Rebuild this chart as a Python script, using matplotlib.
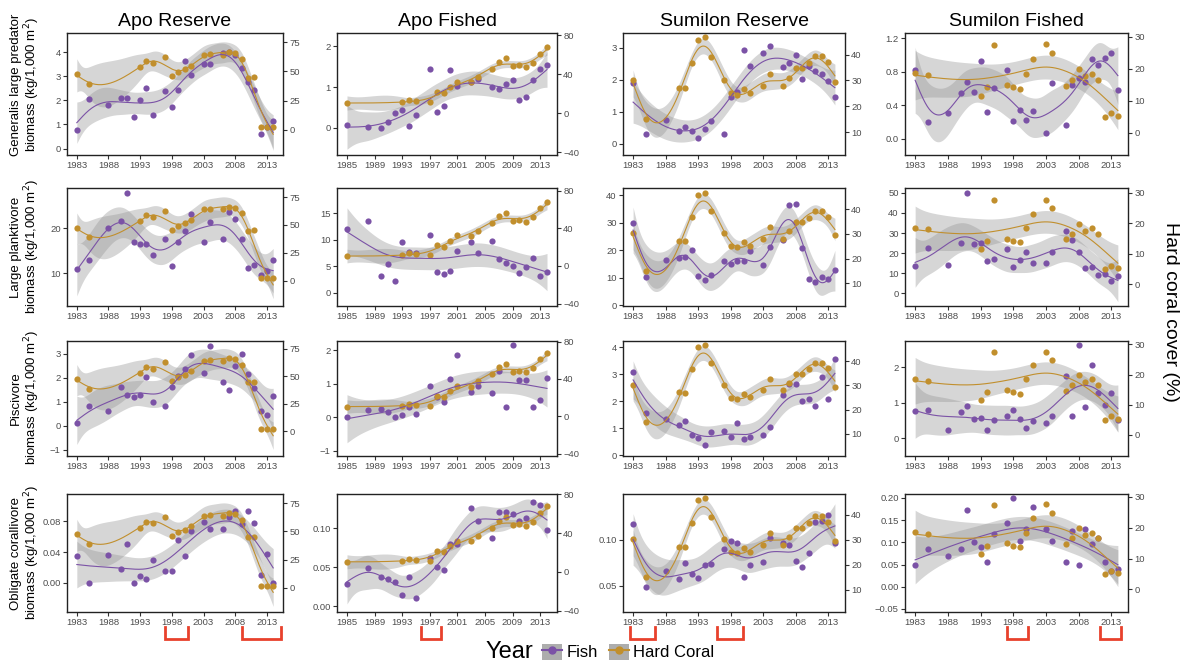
import numpy as np
import matplotlib
matplotlib.use('Agg')
import matplotlib.pyplot as plt
import matplotlib.transforms as mtransforms
from matplotlib.lines import Line2D
from matplotlib.patches import Patch
from matplotlib.legend_handler import HandlerTuple
from matplotlib.ticker import MultipleLocator, FixedLocator, FuncFormatter

plt.rcParams['font.family'] = ['Liberation Sans', 'DejaVu Sans']

# ---- survey years ----
years_apo_res = [1983, 1985, 1988, 1990, 1991, 1992, 1993, 1994, 1995, 1997, 1998, 1999, 2000,
                 2001, 2003, 2004, 2006, 2007, 2008, 2009, 2010, 2011, 2012, 2013, 2014]
years_apo_fish = years_apo_res[1:]
years_sum = years_apo_res

# ---- hard coral cover (%) ----
coral_years_apo_res = [1983, 1985, 1993, 1994, 1995, 1997, 1998, 1999, 2000, 2001, 2003,
                       2004, 2006, 2007, 2008, 2009, 2010, 2011, 2012, 2013, 2014]
coral_apo_res = [47.6, 38.9, 53.4, 58.6, 57.1, 62.6, 45.6, 49.3, 51.6, 54.5, 64.0,
                 64.6, 64.0, 66.3, 65.5, 60.3, 44.7, 45.3, 2, 2, 2]
coral_years_apo_fish = [1985, 1993, 1994, 1995, 1997, 1998, 1999, 2000, 2001, 2003,
                        2004, 2006, 2007, 2008, 2009, 2010, 2011, 2012, 2013, 2014]
coral_apo_fish = [10.5, 11.2, 13.6, 12.2, 11.2, 21.8, 20.4, 26.9, 32.3, 31.6,
                  37.4, 45.6, 52.7, 56.5, 48, 49, 47, 51.7, 61.2, 67.7]
coral_years_sum_res = [1983, 1985, 1990, 1991, 1992, 1993, 1994, 1995, 1997, 1998, 1999, 2000,
                       2001, 2003, 2004, 2006, 2007, 2008, 2009, 2010, 2011, 2012, 2013, 2014]
coral_sum_res = [30.3, 14.9, 27.1, 27.0, 36.7, 45.8, 46.7, 39.1, 30.3, 25.0, 24.5, 26.6,
                 25.2, 28.0, 32.6, 28.0, 31.1, 34.7, 34.7, 36.6, 39.4, 39.4, 37.0, 29.5]
coral_years_sum_fish = coral_years_apo_res
coral_sum_fish = [18.6, 18.0, 11.5, 14.2, 27.5, 14.9, 14.2, 13.7, 18.4, 23.1, 27.6,
                  24.9, 14.7, 16.5, 19.9, 17.6, 18.4, 16.5, 4.9, 6.1, 5.3]

# ---- fish biomass (kg/1,000 m2) ----
pred_apo_res = [0.77, 2.04, 1.82, 2.10, 2.08, 1.29, 2.01, 2.53, 1.38, 2.38, 1.72, 2.43, 3.62,
                3.06, 3.51, 3.50, 3.95, 4.0, 3.9, 3.33, 2.77, 2.42, 0.62, 0.9, 1.13]
pred_apo_fish = [0.07, 0.03, 0.01, 0.14, 0.36, 0.43, 0.05, 0.31, 1.43, 0.40, 0.54, 1.42,
                 1.03, 1.12, 1.19, 1.00, 0.96, 1.07, 1.16, 0.68, 0.75, 1.16, 1.43, 1.55]
pred_sum_res = [1.89, 0.31, 0.74, 0.39, 0.53, 0.39, 0.17, 0.45, 0.70, 0.30, 1.45, 1.61, 2.92,
                2.42, 2.82, 3.05, 2.39, 2.51, 2.77, 2.01, 2.42, 2.28, 2.17, 1.97, 1.45]
pred_sum_fish = [0.82, 0.20, 0.31, 0.54, 0.68, 0.56, 0.93, 0.32, 0.60, 0.82, 0.21, 0.34, 0.22,
                 0.33, 0.07, 0.66, 0.16, 0.64, 0.73, 0.68, 0.95, 0.88, 0.97, 1.02, 0.58]

plank_apo_res = [11.0, 12.9, 20.0, 21.6, 27.8, 17.0, 16.4, 16.4, 14.0, 17.7, 11.6, 16.9, 19.5,
                 23.1, 17.0, 21.5, 17.5, 23.7, 22.0, 17.7, 11.1, 11.7, 9.6, 10.5, 12.9]
plank_apo_fish = [12.0, 13.5, 3.1, 5.4, 2.3, 9.6, 7.7, 7.5, 10.9, 3.9, 3.6, 4.1,
                  7.9, 9.6, 7.5, 9.8, 6.4, 5.7, 5.1, 3.7, 4.9, 6.6, 3.2, 4.0]
plank_sum_res = [30.1, 10.3, 16.4, 17.1, 17.6, 20.2, 10.6, 9.2, 11.1, 16.0, 14.9, 16.0, 16.0,
                 19.8, 14.5, 21.1, 23.7, 36.6, 36.9, 20.9, 9.6, 8.5, 10.3, 9.7, 13.0]
plank_sum_fish = [13.8, 22.5, 14.1, 24.9, 49.7, 24.6, 25.2, 16.1, 17.0, 22.0, 13.2, 16.7, 20.6,
                  15.0, 15.0, 20.4, 31.2, 26.4, 20.7, 12.7, 13.2, 9.3, 9.8, 6.3, 8.8]

pisc_apo_res = [0.11, 0.84, 0.63, 1.63, 1.27, 1.18, 1.27, 2.01, 1.01, 0.82, 1.62, 2.05, 2.35,
                2.95, 2.19, 3.33, 1.84, 1.50, 2.48, 2.98, 2.16, 1.56, 0.63, 0.46, 1.24]
pisc_apo_fish = [0.0, 0.23, 0.25, 0.15, 0.01, 0.07, 0.32, 0.10, 0.92, 0.6, 0.47, 1.13,
                 1.85, 0.76, 0.92, 0.71, 1.37, 0.31, 2.15, 1.10, 1.10, 0.31, 0.53, 1.16]
pisc_sum_res = [3.11, 1.59, 1.34, 1.12, 1.27, 0.75, 0.66, 0.40, 0.88, 0.91, 0.70, 1.21, 0.60,
                0.70, 0.74, 1.06, 2.24, 2.65, 2.63, 2.02, 2.09, 1.85, 2.91, 2.11, 3.56]
pisc_sum_fish = [0.78, 0.80, 0.23, 0.74, 0.91, 0.53, 0.57, 0.22, 0.52, 0.63, 0.79, 0.54, 0.28,
                 0.49, 0.44, 0.63, 1.75, 0.63, 2.62, 0.88, 2.06, 1.28, 0.94, 1.28, 0.51]

coralliv_apo_res = [0.0348, 0.0, 0.0357, 0.0178, 0.0504, 0.0, 0.0096, 0.0048, 0.030, 0.0152,
                    0.0152, 0.0565, 0.0352, 0.0674, 0.0787, 0.0704, 0.0704, 0.0852, 0.0935,
                    0.0761, 0.093, 0.0778, 0.010, 0.037, 0.0]
coralliv_apo_fish = [0.0287, 0.0489, 0.0377, 0.0345, 0.0305, 0.0148, 0.0372, 0.0103, 0.062,
                     0.0502, 0.0466, 0.0794, 0.080, 0.127, 0.110, 0.0874, 0.121, 0.121, 0.119,
                     0.110, 0.114, 0.134, 0.130, 0.098]
coralliv_sum_res = [0.1173, 0.0492, 0.0662, 0.0575, 0.0748, 0.0632, 0.0586, 0.0726, 0.0733,
                    0.0898, 0.0992, 0.0962, 0.0602, 0.0726, 0.0759, 0.1019, 0.097, 0.094,
                    0.0767, 0.070, 0.0853, 0.1195, 0.12, 0.127, 0.097]
coralliv_sum_fish = [0.050, 0.086, 0.070, 0.086, 0.173, 0.10, 0.089, 0.055, 0.118, 0.144,
                     0.200, 0.103, 0.130, 0.180, 0.129, 0.103, 0.056, 0.125, 0.049, 0.130,
                     0.096, 0.109, 0.056, 0.035, 0.040]

# disturbance periods marked under each site column
events_apo_res = [(1997, 2000.5), (2009, 2015.3)]
events_apo_fish = [(1995.7, 1998.6)]
events_sum_res = [(1982.5, 1986.4), (1995.9, 1999.9)]
events_sum_fish = [(1997, 2000.3), (2011.3, 2014.5)]

sites = ['Apo Reserve', 'Apo Fished', 'Sumilon Reserve', 'Sumilon Fished']
groups = ['Generalis large predator\nbiomass (kg/1,000 m$^2$)',
          'Large planktivore\nbiomass (kg/1,000 m$^2$)',
          'Piscivore\nbiomass (kg/1,000 m$^2$)',
          'Obligate corallivore\nbiomass (kg/1,000 m$^2$)']

fish_years = [years_apo_res, years_apo_fish, years_sum, years_sum]
coral_years = [coral_years_apo_res, coral_years_apo_fish, coral_years_sum_res, coral_years_sum_fish]
coral_vals = [coral_apo_res, coral_apo_fish, coral_sum_res, coral_sum_fish]
fish_vals = [[pred_apo_res, pred_apo_fish, pred_sum_res, pred_sum_fish],
             [plank_apo_res, plank_apo_fish, plank_sum_res, plank_sum_fish],
             [pisc_apo_res, pisc_apo_fish, pisc_sum_res, pisc_sum_fish],
             [coralliv_apo_res, coralliv_apo_fish, coralliv_sum_res, coralliv_sum_fish]]
events = [events_apo_res, events_apo_fish, events_sum_res, events_sum_fish]

# smoother flexibility (effective degrees of freedom) per curve
fish_edf = [[7, 6, 5, 8], [7, 4.5, 9, 6.5], [7, 4, 7, 6], [5, 8, 7, 4]]
coral_edf = [8.5, 7, 9, 4]

# axis ranges per panel: (left lo, left hi, right lo, right hi)
limits = [[(-0.27, 4.8, -21.6, 82.8), (-0.66, 2.32, -42.9, 82.3), (-0.36, 3.46, 1.1, 48.4), (-0.196, 1.264, -7.0, 31.1)],
          [(2.65, 29.0, -22.9, 83.2), (-2.5, 19.75, -42.6, 82.7), (-0.3, 42.7, 0.8, 48.6), (-6.3, 52.4, -7.2, 31.6)],
          [(-1.25, 3.52, -22.3, 82.1), (-1.16, 2.28, -42.5, 80.7), (-0.02, 4.24, 0.9, 48.3), (-0.5, 2.74, -7.0, 31.1)],
          [(-0.0378, 0.1157, -21.3, 83.1), (-0.0076, 0.1444, -41.2, 80.3), (0.0218, 0.1496, 1.0, 48.4), (-0.057, 0.209, -7.3, 30.9)]]
left_steps = [[(1, 0), (1, 0), (1, 0), (0.4, 1)],
              [(10, 0), (5, 0), (10, 0), (10, 0)],
              [(1, 0), (1, 0), (1, 0), (1, 0)],
              [(0.04, 2), (0.05, 2), (0.05, 2), (0.05, 2)]]
right_steps = [25, 40, 10, 10]

PURPLE = '#7B52A6'
GOLD = '#C18F2D'
W, H = 1183, 663
cols_px = [(67, 283), (337, 557), (623, 845), (905, 1128)]
rows_px = [(33, 155), (188, 306), (341, 456), (494, 612)]
ylabel_y = [85, 247, 398, 553]


def smooth(x, y, target_edf, k=10):
    # thin plate regression spline (rank k) with a curvature penalty
    x = np.asarray(x, float)
    y = np.asarray(y, float)
    xl, xr = x.min(), x.max()
    u = (x - xl) / (xr - xl)
    n = len(u)
    E = np.abs(u[:, None] - u[None, :]) ** 3 / 12
    w, V = np.linalg.eigh(E)
    idx = np.argsort(-np.abs(w))[:k]
    Uk = V[:, idx]
    Dk = np.diag(w[idx])
    T = np.column_stack([np.ones(n), u])
    Q, _ = np.linalg.qr(Uk.T @ T, mode='complete')
    Z = Q[:, 2:]
    X = np.column_stack([Uk @ Dk @ Z, T])
    S = np.zeros((k, k))
    S[:k - 2, :k - 2] = Z.T @ Dk @ Z
    S = (S + S.T) / 2
    XtX = X.T @ X
    Xty = X.T @ y
    best = None
    for lam in np.logspace(-12, 4, 641):
        A = np.linalg.inv(XtX + lam * S)
        edf = np.trace(A @ XtX)
        d = abs(edf - target_edf)
        if best is None or d < best[0]:
            best = (d, A, edf)
    _, A, edf = best
    beta = A @ Xty
    rss = np.sum((y - X @ beta) ** 2)
    dfr = n - edf
    sig2 = rss / dfr
    xs = np.linspace(xl, xr, 200)
    g = (xs - xl) / (xr - xl)
    Bg = np.abs(g[:, None] - u[None, :]) ** 3 / 12
    Xs = np.column_stack([Bg @ Uk @ Z, np.ones_like(g), g])
    fit = Xs @ beta
    se = np.sqrt(np.maximum(np.einsum('ij,jk,ik->i', Xs, A * sig2, Xs), 0))
    t = 1.96 + 2.4 / dfr
    return xs, fit, fit - t * se, fit + t * se


def minus_fmt(dec):
    def f(v, pos):
        s = ('%.' + str(dec) + 'f') % (round(v, dec) + 0.0)
        return s.replace('-', '\u2212')
    return FuncFormatter(f)


fig = plt.figure(figsize=(W / 100, H / 100), dpi=100)

for r in range(4):
    for c in range(4):
        l, rr = cols_px[c]
        t, b = rows_px[r]
        ax = fig.add_axes([l / W, 1 - b / H, (rr - l) / W, (b - t) / H])
        ax2 = ax.twinx()
        fy = fish_years[c]
        fv = fish_vals[r][c]
        cy = coral_years[c]
        cv = coral_vals[c]
        lo1, hi1, lo2, hi2 = limits[r][c]
        x0, x1 = min(fy), max(fy)
        pad = 0.05 * (x1 - x0)
        ax.set_xlim(x0 - pad, x1 + pad)
        ax.set_ylim(lo1, hi1)
        ax2.set_ylim(lo2, hi2)

        ctr = ax2.transData
        xs, fit, lo, hi = smooth(fy, fv, fish_edf[r][c])
        ax.fill_between(xs, lo, hi, color='#999999', alpha=0.4, lw=0, zorder=1)
        xs2, fit2, lo2b, hi2b = smooth(cy, cv, coral_edf[c])
        ax.fill_between(xs2, lo2b, hi2b, color='#999999', alpha=0.4, lw=0, zorder=1, transform=ctr)
        ax.scatter(fy, fv, s=20, color=PURPLE, lw=0, zorder=2)
        ax.scatter(cy, cv, s=20, color=GOLD, lw=0, zorder=2, transform=ctr)
        ax.plot(xs, fit, color=PURPLE, lw=0.8, zorder=3)
        ax.plot(xs2, fit2, color=GOLD, lw=0.8, zorder=3, transform=ctr)

        if c == 1:
            ax.xaxis.set_major_locator(FixedLocator(list(range(1985, 2014, 4))))
        else:
            ax.xaxis.set_major_locator(FixedLocator(list(range(1983, 2014, 5))))
        step, dec = left_steps[r][c]
        ax.yaxis.set_major_locator(MultipleLocator(step))
        ax.yaxis.set_major_formatter(minus_fmt(dec))
        ax2.yaxis.set_major_locator(MultipleLocator(right_steps[c]))
        ax2.yaxis.set_major_formatter(minus_fmt(0))

        for a in (ax, ax2):
            a.tick_params(direction='out', length=3, width=0.8, color='#333333',
                          labelsize=6.8, labelcolor='#4D4D4D', pad=1.5)
        ax.tick_params(axis='y', right=False)
        for sp in ax.spines.values():
            sp.set_linewidth(1.0)
            sp.set_color('#222222')
        for sp in ax2.spines.values():
            sp.set_visible(False)
        ax.set_zorder(ax2.get_zorder() + 1)
        ax.patch.set_visible(False)

        if r == 0:
            ax.set_title(sites[c], fontsize=14, pad=5)
        if c == 0:
            fig.text(26 / W, 1 - ylabel_y[r] / H, groups[r], rotation=90, ha='center',
                     va='center', fontsize=9.5, multialignment='center', linespacing=1.05)
        if r == 3:
            trans = mtransforms.blended_transform_factory(ax.transData, ax.transAxes)
            for e0, e1 in events[c]:
                ax.plot([e0, e0, e1, e1], [-0.125, -0.225, -0.225, -0.125], color='#E8412C',
                        lw=2.0, transform=trans, clip_on=False, solid_joinstyle='miter')

fig.text(1170 / W, 1 - 312 / H, 'Hard coral cover (%)', rotation=270, ha='center',
         va='center', fontsize=14)
fig.text(486 / W, 1 - 652 / H, 'Year', ha='left', va='center', fontsize=17)

key = Patch(facecolor='#ADADAD', edgecolor='none')
h_fish = (key, Line2D([], [], color=PURPLE, marker='o', markersize=5, lw=1.5))
h_coral = (key, Line2D([], [], color=GOLD, marker='o', markersize=5, lw=1.5))
fig.legend([h_fish, h_coral], ['Fish', 'Hard Coral'], loc='center left',
           bbox_to_anchor=(542 / W, 1 - 652 / H), ncol=2, frameon=False, fontsize=12,
           handlelength=1.2, handleheight=1.1, handletextpad=0.25, columnspacing=0.7,
           borderaxespad=0, borderpad=0,
           handler_map={tuple: HandlerTuple(ndivide=1, pad=0)})

fig.savefig('out.png', dpi=100)
